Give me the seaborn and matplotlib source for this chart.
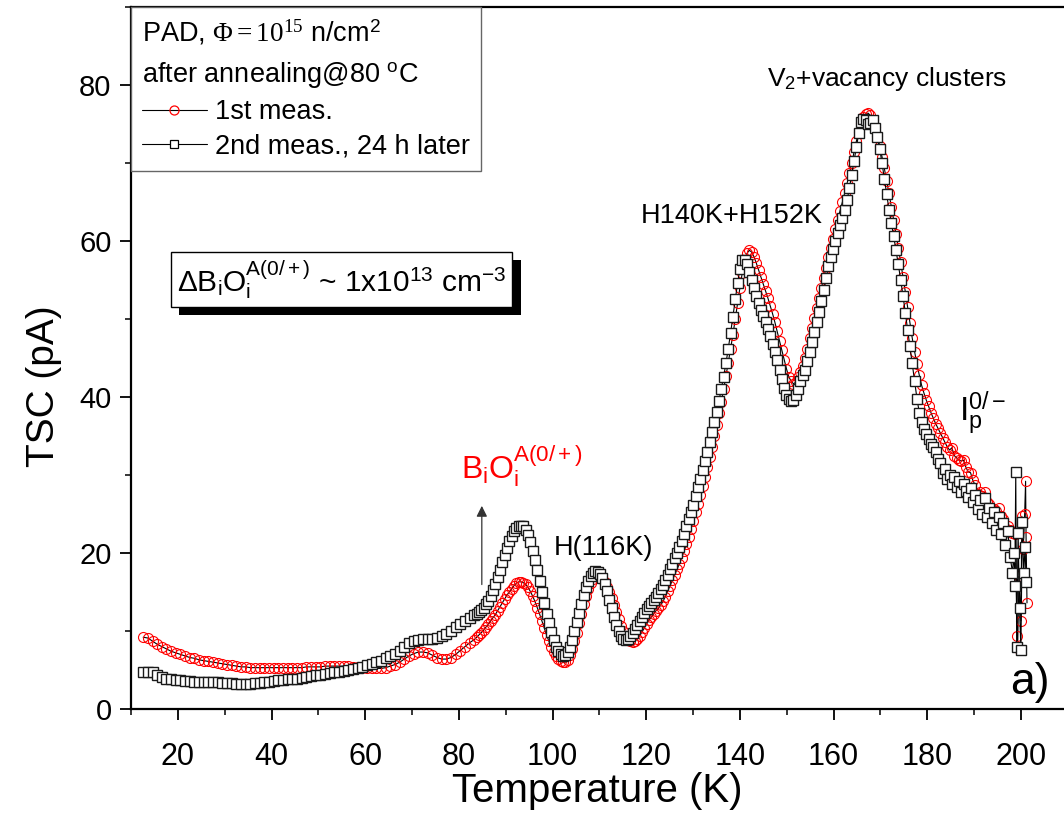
import numpy as np
import pandas as pd
import matplotlib
matplotlib.use("Agg")
import matplotlib.pyplot as plt
import matplotlib.patheffects as pe
from matplotlib.lines import Line2D
from matplotlib.ticker import MultipleLocator
from matplotlib import font_manager
import seaborn as sns

# ---------------- data ----------------
# temperature sampling grids (K)
temp_low = np.linspace(12.6, 82.3, 71)      # ~1 K steps
temp_high = np.linspace(83.3, 198.2, 232)   # ~0.5 K steps

black_low = [4.7, 4.8, 4.7, 4.4, 4.1, 3.9, 3.8, 3.7, 3.7, 3.6,
             3.6, 3.5, 3.5, 3.5, 3.4, 3.4, 3.4, 3.3, 3.3, 3.3,
             3.2, 3.2, 3.2, 3.2, 3.3, 3.3, 3.4, 3.5, 3.6, 3.7,
             3.7, 3.8, 3.9, 3.9, 4.0, 4.1, 4.2, 4.3, 4.4, 4.5,
             4.6, 4.7, 4.8, 4.9, 5.0, 5.1, 5.3, 5.4, 5.6, 5.8,
             6.0, 6.2, 6.5, 6.8, 7.1, 7.5, 8.0, 8.4, 8.7, 8.9,
             9.0, 9.0, 9.0, 9.1, 9.3, 9.6, 10.0, 10.5, 10.9, 11.3,
             11.7]
black_high = [12.0, 12.2, 12.4, 12.7, 13.0, 13.4, 13.9, 14.5, 15.2, 16.0,
              16.9, 17.8, 18.8, 19.8, 20.7, 21.5, 22.2, 22.8, 23.2, 23.4,
              23.5, 23.4, 23.0, 22.3, 21.4, 20.3, 19.1, 17.8, 16.4, 15.0,
              13.6, 12.2, 11.0, 9.9, 8.9, 8.0, 7.4, 7.0, 6.8, 6.9,
              7.3, 8.0, 8.9, 10.0, 11.2, 12.3, 13.5, 14.6, 15.6, 16.4,
              17.1, 17.5, 17.7, 17.6, 17.3, 16.8, 16.0, 15.1, 14.0, 12.9,
              11.8, 10.8, 10.0, 9.4, 9.0, 8.9, 9.0, 9.3, 9.8, 10.3,
              10.8, 11.3, 11.8, 12.3, 12.8, 13.2, 13.6, 14.0, 14.4, 14.9,
              15.4, 15.9, 16.5, 17.2, 17.9, 18.6, 19.3, 20.0, 20.8, 21.6,
              22.5, 23.4, 24.3, 25.2, 26.2, 27.3, 28.4, 29.5, 30.6, 31.8,
              33.0, 34.2, 35.5, 36.8, 38.1, 39.5, 41.0, 42.6, 44.3, 46.2,
              48.2, 50.3, 52.5, 54.6, 56.4, 57.5, 57.6, 57.0, 56.0, 55.0,
              54.0, 53.0, 52.0, 51.2, 50.4, 49.6, 48.7, 47.8, 46.8, 45.8,
              44.7, 43.5, 42.3, 41.2, 40.3, 39.7, 39.5, 39.6, 40.2, 41.0,
              42.0, 42.8, 43.5, 44.6, 45.8, 47.0, 48.3, 49.6, 50.9, 52.3,
              53.7, 55.2, 56.8, 58.0, 59.0, 60.0, 61.0, 62.0, 63.0, 64.0,
              65.2, 66.8, 68.5, 70.3, 72.0, 73.8, 75.2, 75.7, 75.5, 75.0,
              75.1, 75.5, 74.5, 73.3, 71.8, 70.0, 68.0, 66.0, 64.0, 62.3,
              60.6, 58.8, 57.0, 55.0, 53.0, 50.8, 48.6, 46.5, 44.3, 42.0,
              39.8, 38.0, 36.8, 35.9, 35.2, 34.6, 34.0, 33.6, 33.0, 32.0,
              31.5, 30.2, 30.8, 29.5, 30.0, 28.8, 29.8, 28.5, 29.2, 27.8,
              28.9, 28.0, 27.2, 28.3, 26.5, 27.4, 25.6, 26.8, 25.0, 27.0,
              24.6, 25.8, 23.8, 25.2, 23.0, 24.6, 22.4, 23.8, 21.0, 22.8,
              19.5, 17.5]
black_tail_t = [198.5, 198.7, 198.9, 199.1, 199.4, 199.7, 200.0, 200.3, 200.6, 200.9, 201.1]
black_tail_v = [20.0, 15.8, 30.4, 8.0, 22.6, 13.0, 7.6, 24.0, 17.5, 20.8, 16.3]

red_low = [9.2, 9.1, 8.7, 8.3, 8.0, 7.7, 7.4, 7.2, 7.0, 6.8,
           6.6, 6.5, 6.3, 6.2, 6.1, 6.0, 5.9, 5.8, 5.7, 5.6,
           5.5, 5.4, 5.4, 5.3, 5.3, 5.3, 5.3, 5.3, 5.3, 5.3,
           5.3, 5.3, 5.3, 5.3, 5.3, 5.4, 5.4, 5.4, 5.4, 5.5,
           5.5, 5.5, 5.5, 5.5, 5.5, 5.4, 5.4, 5.3, 5.3, 5.2,
           5.2, 5.2, 5.3, 5.5, 5.7, 6.0, 6.4, 6.8, 7.1, 7.3,
           7.3, 7.2, 6.9, 6.6, 6.4, 6.4, 6.6, 7.0, 7.5, 8.0,
           8.5]
red_high = [8.9, 9.2, 9.5, 9.8, 10.1, 10.5, 10.9, 11.3, 11.7, 12.1,
            12.6, 13.1, 13.6, 14.1, 14.6, 15.0, 15.4, 15.8, 16.1, 16.3,
            16.3, 16.2, 16.0, 15.6, 15.1, 14.5, 13.8, 13.0, 12.2, 11.3,
            10.4, 9.5, 8.7, 8.0, 7.3, 6.8, 6.4, 6.1, 6.0, 6.0,
            6.3, 6.9, 7.7, 8.7, 9.8, 11.0, 12.2, 13.4, 14.5, 15.4,
            16.2, 16.7, 17.0, 17.1, 17.0, 16.7, 16.3, 15.7, 15.0, 14.2,
            13.3, 12.4, 11.5, 10.7, 10.0, 9.4, 9.0, 8.7, 8.6, 8.7,
            9.0, 9.4, 9.9, 10.4, 10.9, 11.4, 11.8, 12.2, 12.6, 12.9,
            13.3, 13.8, 14.4, 15.1, 15.8, 16.5, 17.2, 17.9, 18.6, 19.4,
            20.2, 21.1, 22.1, 23.1, 24.1, 25.2, 26.3, 27.4, 28.6, 29.8,
            31.0, 32.3, 33.6, 35.0, 36.4, 37.9, 39.4, 41.0, 42.7, 44.4,
            46.2, 48.0, 50.0, 52.0, 54.0, 55.9, 57.4, 58.4, 58.8, 58.6,
            58.0, 57.2, 56.3, 55.4, 54.5, 53.6, 52.7, 51.7, 50.7, 49.6,
            48.4, 47.2, 46.0, 44.8, 43.6, 42.6, 42.0, 41.7, 41.9, 42.5,
            43.2, 44.0, 45.0, 46.2, 47.5, 48.8, 50.1, 51.4, 52.7, 54.0,
            55.3, 56.6, 57.9, 59.1, 60.3, 61.5, 62.7, 63.9, 65.0, 66.2,
            67.4, 68.7, 70.0, 71.4, 72.8, 74.0, 75.1, 75.9, 76.3, 76.4,
            76.1, 75.5, 74.6, 73.5, 72.2, 70.8, 69.3, 67.7, 66.1, 64.4,
            62.7, 60.9, 59.1, 57.3, 55.4, 53.5, 51.5, 49.5, 47.5, 45.8,
            44.2, 42.8, 41.5, 40.5, 39.6, 38.8, 38.0, 37.3, 36.6, 36.0,
            35.4, 34.8, 34.2, 33.6, 33.2, 33.5, 32.5, 32.2, 31.9, 31.8,
            31.9, 31.0, 30.4, 30.3, 29.3, 28.7, 27.6, 27.8, 27.3, 27.8,
            26.6, 26.3, 25.5, 25.7, 25.4, 25.8, 24.8, 24.4, 23.2, 23.5,
            23.0, 22.6]
red_tail_t = [198.8, 199.2, 199.3, 199.6, 200.0, 200.2, 200.5, 200.8, 201.0, 201.1, 201.3]
red_tail_v = [22.5, 9.4, 7.8, 17.0, 11.3, 24.7, 20.5, 25.0, 29.2, 22.1, 13.6]

series_labels = ["1st meas.", "2nd meas., 24 h later"]
x_ticks = [20, 40, 60, 80, 100, 120, 140, 160, 180, 200]
y_ticks = [0, 20, 40, 60, 80]

# ---------------- style ----------------
sns.set_theme(style="ticks")
names = {f.name for f in font_manager.fontManager.ttflist}
SANS = "Liberation Sans" if "Liberation Sans" in names else "DejaVu Sans"
SERIF = "Liberation Serif" if "Liberation Serif" in names else "DejaVu Serif"
NARROW = "Liberation Sans Narrow" if "Liberation Sans Narrow" in names else SANS
plt.rcParams["font.family"] = [SANS, "DejaVu Sans"]
plt.rcParams["mathtext.fontset"] = "custom"
plt.rcParams["mathtext.rm"] = SERIF
plt.rcParams["mathtext.it"] = SERIF + ":italic"
plt.rcParams["mathtext.sf"] = SANS
for k in ["text.color", "axes.labelcolor", "xtick.color", "ytick.color", "axes.edgecolor"]:
    plt.rcParams[k] = "black"

t_all = np.concatenate([temp_low, temp_high])
df_red = pd.DataFrame({"T": np.concatenate([t_all, red_tail_t]),
                       "TSC": np.array(red_low + red_high + red_tail_v)})
df_black = pd.DataFrame({"T": np.concatenate([t_all, black_tail_t]),
                         "TSC": np.array(black_low + black_high + black_tail_v)})

W, H = 1064, 815
fig = plt.figure(figsize=(W / 100, H / 100), dpi=100)
ax = fig.add_axes([131 / W, 1 - 709 / H, (W - 131) / W, (709 - 7) / H])

sns.lineplot(data=df_red, x="T", y="TSC", ax=ax, sort=False, estimator=None,
             color="black", linewidth=0.8, marker="o", markersize=7.2,
             markerfacecolor="none", markeredgecolor="red", markeredgewidth=0.8)
sns.lineplot(data=df_black, x="T", y="TSC", ax=ax, sort=False, estimator=None,
             color="black", linewidth=0.8, marker="s", markersize=6.6,
             markerfacecolor="white", markeredgecolor="#1a1a1a", markeredgewidth=1.0)

ax.set_xlim(10, 209.2)
ax.set_ylim(0, 90)
ax.set_xticks(x_ticks)
ax.set_yticks(y_ticks)
ax.xaxis.set_minor_locator(MultipleLocator(10))
ax.yaxis.set_minor_locator(MultipleLocator(10))
ax.tick_params(which="major", direction="out", length=8, width=1.3, color="black")
ax.tick_params(which="minor", direction="out", length=4.5, width=1.1, color="black")
ax.tick_params(axis="y", labelsize=21, pad=6)
ax.tick_params(axis="x", labelsize=22, pad=16)
for lab in ax.get_xticklabels():
    lab.set_fontfamily(NARROW)
for s in ["left", "bottom", "top"]:
    ax.spines[s].set_linewidth(1.6)
    ax.spines[s].set_color("black")
ax.spines["right"].set_visible(False)

ax.set_xlabel("Temperature (K)", fontsize=29, fontfamily=NARROW, labelpad=0)
ax.set_ylabel("TSC (pA)", fontsize=28)
ax.yaxis.set_label_coords(-0.074, 0.46)

# legend
handles = [Line2D([], [], color="black", lw=0.8, marker="o", ms=6.5, mfc="none",
                  mec="red", mew=0.9),
           Line2D([], [], color="black", lw=0.8, marker="s", ms=6, mfc="white",
                  mec="black", mew=0.9)]
title = "PAD, $\\Phi = 10^{15}$ n/cm$^{\\mathsf{2}}$\nafter annealing@80 $^{\\mathsf{o}}$C"
leg = ax.legend(handles, series_labels, loc="upper left", bbox_to_anchor=(0, 1),
                borderaxespad=0, frameon=True, fancybox=False, edgecolor="#666666",
                framealpha=1, fontsize=19.5, title=title, title_fontsize=19.5,
                handlelength=2.4, handletextpad=0.3, labelspacing=0.32, borderpad=0.4)
leg._legend_box.align = "left"
leg.get_frame().set_linewidth(1.0)
leg.get_title().set_linespacing(1.6)

# annotations
ax.text(145.8, 80.8, "V$_{\\mathsf{2}}$+vacancy clusters", fontsize=19, va="center", ha="left")
ax.text(118.9, 63.2, "H140K+H152K", fontsize=19.5, va="center", ha="left")
ax.text(100.3, 20.6, "H(116K)", fontsize=19.5, va="center", ha="left")
ax.text(80.4, 29.4, "B$_{\\mathsf{i}}$O$_{\\mathsf{i}}^{\\mathsf{A(0/+)}}$", fontsize=23,
        color="red", va="baseline", ha="left")
ax.text(186.8, 37.0, "I$_{\\mathsf{p}}^{\\mathsf{0/-}}$", fontsize=24, va="baseline", ha="left")
ax.text(197.8, 3.4, "a)", fontsize=32, va="center", ha="left")
ax.annotate("", xy=(84.9, 26.4), xytext=(84.9, 15.6),
            arrowprops=dict(arrowstyle="-|>", color="#333333", lw=0.9, mutation_scale=16))

box_txt = ax.text(55.0, 55.1,
                  "ΔB$_{\\mathsf{i}}$O$_{\\mathsf{i}}^{\\mathsf{A(0/+)}}$ ~ 1x10$^{\\mathsf{13}}$ cm$^{\\mathsf{-3}}$",
                  fontsize=21.5, ha="center", va="center",
                  bbox=dict(boxstyle="square,pad=0.2", facecolor="white",
                            edgecolor="black", linewidth=1.0))
box_txt.get_bbox_patch().set_path_effects(
    [pe.SimplePatchShadow(offset=(6, -6), shadow_rgbFace="black", alpha=1.0), pe.Normal()])

fig.savefig("out.png", dpi=100)
